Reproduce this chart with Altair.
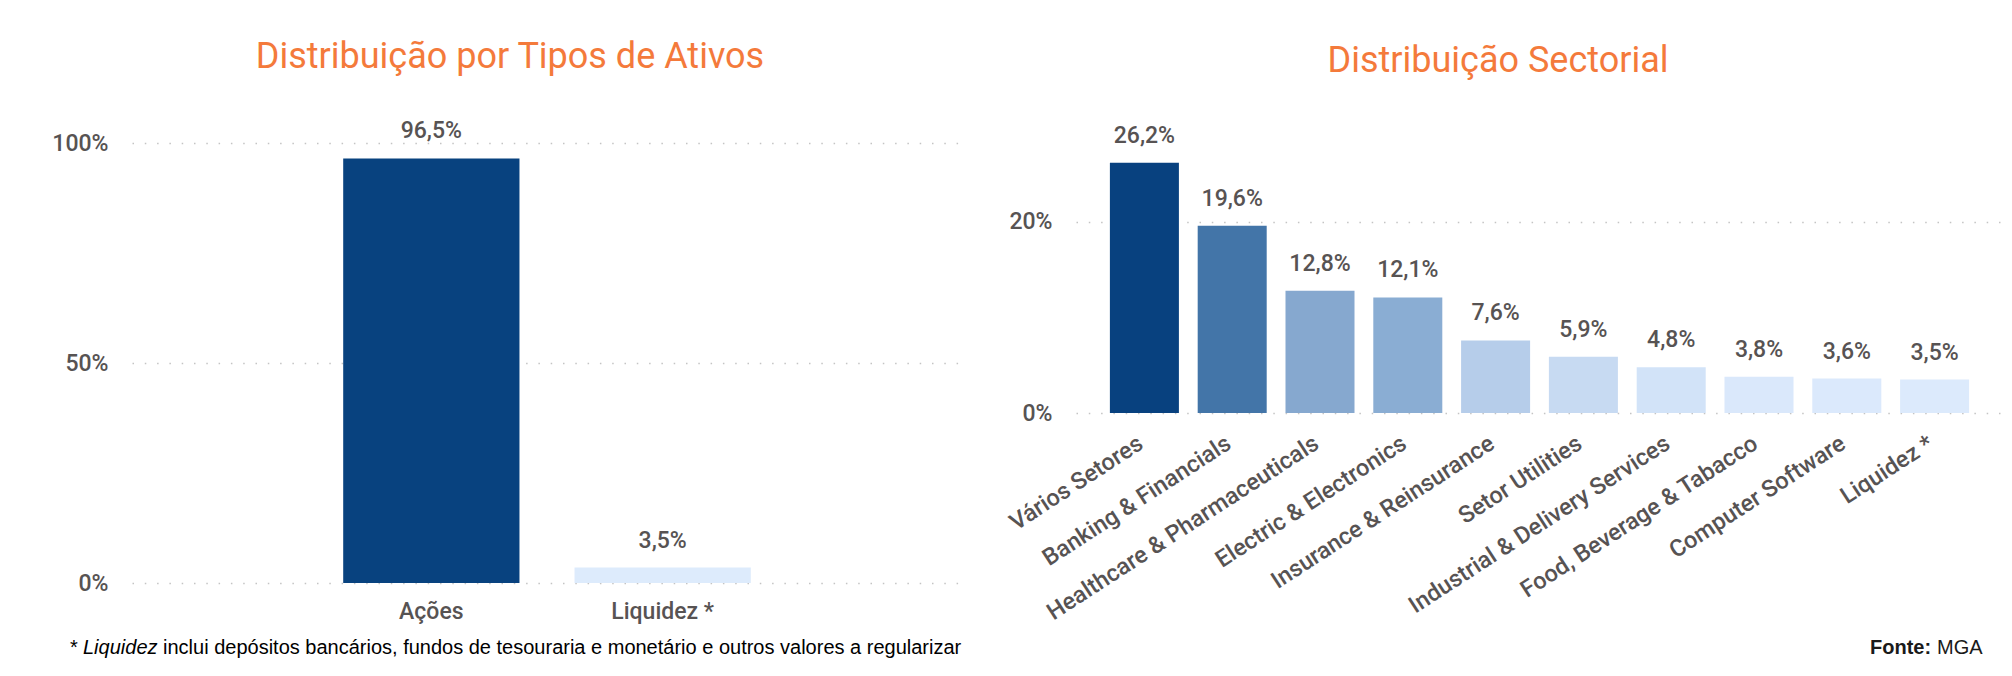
import altair as alt
import pandas as pd

FONT = "Roboto"
GRAY = "#575353"
ORANGE = "#F47A3B"
GRID = "#C4C4C4"
ARIAL = "Liberation Sans, Arial, sans-serif"
W = 500

# ---- data ----
titulo_tipos = "Distribuição por Tipos de Ativos"
tipos = ["Ações", "Liquidez *"]
tipos_val = [96.5, 3.5]
tipos_cor = ["#08427F", "#DDEBFC"]
tipos_ticks = [0, 50, 100]

titulo_setores = "Distribuição Sectorial"
setores = [
    "Vários Setores",
    "Banking & Financials",
    "Healthcare & Pharmaceuticals",
    "Electric & Electronics",
    "Insurance & Reinsurance",
    "Setor Utilities",
    "Industrial & Delivery Services",
    "Food, Beverage & Tabacco",
    "Computer Software",
    "Liquidez *",
]
setores_val = [26.2, 19.6, 12.8, 12.1, 7.6, 5.9, 4.8, 3.8, 3.6, 3.5]
setores_cor = ["#08417F", "#4375A8", "#86A8CF", "#8AADD3", "#B6CDEA",
               "#C7DAF2", "#D2E3F8", "#DAE8FB", "#DBE9FC", "#DCEAFC"]
setores_ticks = [0, 20]

nota_a = "*"
nota_b = "Liquidez"
nota_c = "inclui depósitos bancários, fundos de tesouraria e monetário e outros valores a regularizar"
fonte_a = "Fonte:"
fonte_b = "MGA"

LBL = "replace(format(datum.v, '.1f'), '.', ',') + '%'"


def yaxis(ticks):
    return alt.Axis(values=ticks, labelExpr="datum.value + '%'", labelFont=FONT,
                    labelFontSize=23, labelFontWeight=W, labelColor=GRAY,
                    labelPadding=24, ticks=False, domain=False, grid=True,
                    gridColor=GRID, gridDash=[1.5, 10.8], gridWidth=1.6)


def txt(t, x, y, **kw):
    return alt.Chart(pd.DataFrame({"t": [t]})).mark_text(**kw).encode(
        text="t:N", x=alt.value(x), y=alt.value(y))


# ---- left chart ----
df1 = pd.DataFrame({"cat": tipos, "v": tipos_val, "cor": tipos_cor})
base1 = alt.Chart(df1).transform_calculate(lbl=LBL)
x1 = alt.X("cat:N", sort=None, title=None,
           scale=alt.Scale(paddingInner=0.238, paddingOuter=0.913),
           axis=alt.Axis(labelAngle=0, labelFont=FONT, labelFontSize=23,
                         labelFontWeight=W, labelColor=GRAY, labelPadding=17,
                         ticks=False, tickSize=0, domain=False))
y1 = alt.Y("v:Q", title=None, scale=alt.Scale(domain=[0, 100], nice=False),
           axis=yaxis(tipos_ticks))
bars1 = base1.mark_bar().encode(x=x1, y=y1, color=alt.Color("cor:N", scale=None))
lab1 = base1.mark_text(baseline="alphabetic", dy=-20, font=FONT, fontSize=23,
                       fontWeight=W, color=GRAY).encode(x=x1, y=y1, text="lbl:N")
anchor = alt.Chart(pd.DataFrame({"a": [0]})).mark_rule(color="white").encode(
    x=alt.value(-123), x2=alt.value(-122), y=alt.value(-134), y2=alt.value(-133))
t1 = txt(titulo_tipos, 378, -75, font=FONT, fontSize=36,
         color=ORANGE, align="center", baseline="alphabetic")
n1 = txt(nota_a, -62, 511, font=ARIAL, fontSize=20, color="#000000",
         align="left", baseline="alphabetic")
n2 = txt(nota_b, -49, 511, font=ARIAL, fontSize=20, color="#000000",
         fontStyle="italic", align="left", baseline="alphabetic")
n3 = txt(nota_c, 31, 511, font=ARIAL, fontSize=20, color="#000000",
         align="left", baseline="alphabetic")
left = alt.layer(bars1, lab1, t1, n1, n2, n3, anchor).properties(width=830, height=440)

# ---- right chart ----
df2 = pd.DataFrame({"cat": setores, "v": setores_val, "cor": setores_cor})
base2 = alt.Chart(df2).transform_calculate(lbl=LBL)
x2 = alt.X("cat:N", sort=None, title=None,
           scale=alt.Scale(paddingInner=0.214, paddingOuter=0.386),
           axis=alt.Axis(labelAngle=-33, labelFont=FONT, labelFontSize=23.5,
                         labelFontWeight=W, labelColor=GRAY, labelPadding=18,
                         labelOffset=-10, ticks=False, tickSize=0, domain=False,
                         labelLimit=500, labelOverlap=False))
y2 = alt.Y("v:Q", title=None, scale=alt.Scale(domain=[0, 28.27], nice=False),
           axis=yaxis(setores_ticks))
bars2 = base2.mark_bar().encode(x=x2, y=y2, color=alt.Color("cor:N", scale=None))
lab2 = base2.mark_text(baseline="alphabetic", dy=-20, font=FONT, fontSize=23,
                       fontWeight=W, color=GRAY).encode(x=x2, y=y2, text="lbl:N")
t2 = txt(titulo_setores, 422, -71, font=FONT, fontSize=36,
         color=ORANGE, align="center", baseline="alphabetic")
f1 = txt(fonte_a, 794, 511, font=ARIAL, fontSize=20, color="#1A1A1A",
         fontWeight="bold", align="left", baseline="alphabetic")
f2 = txt(fonte_b, 861, 511, font=ARIAL, fontSize=20, color="#1A1A1A",
         align="left", baseline="alphabetic")
right = alt.layer(bars2, lab2, t2, f1, f2).properties(width=927, height=270)

chart = (
    alt.hconcat(left, right, spacing=114, bounds="flush")
    .properties(padding=0, background="white")
    .configure_view(stroke=None)
)

chart.save("out.html", embed_options={"renderer": "svg", "actions": False})
